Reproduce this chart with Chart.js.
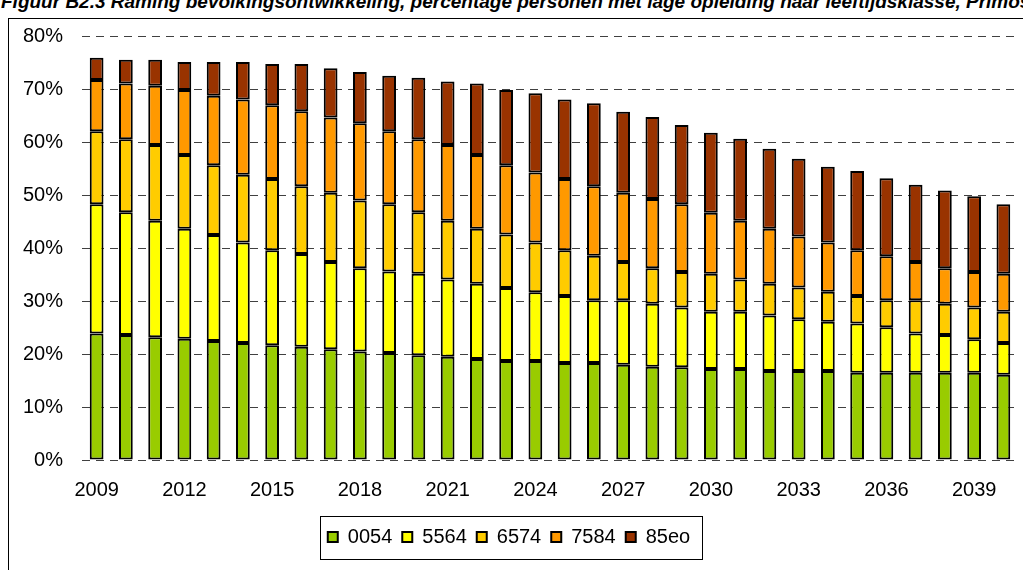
<!DOCTYPE html>
<html>
<head>
<meta charset="utf-8">
<script src="https://cdn.jsdelivr.net/npm/chart.js@4.4.1/dist/chart.umd.min.js"></script>
<style>
  html, body { margin: 0; padding: 0; background: #fff; }
  body { width: 1023px; height: 570px; position: relative; overflow: hidden; }
  #title { position: absolute; left: 1px; top: -8px; white-space: nowrap;
           font: italic bold 19px "Liberation Sans", Arial, sans-serif; line-height: 19px; color: #000; }
  #frame { position: absolute; left: 8px; top: 18px; width: 1200px; height: 800px;
           border-left: 1px solid #000; border-top: 1px solid #000; }
  #wrap { position: absolute; left: 0; top: 0; width: 1023px; height: 570px; }
</style>
</head>
<body>
<div id="title">Figuur B2.3 Raming bevolkingsontwikkeling, percentage personen met lage opleiding naar leeftijdsklasse, Primos</div>
<div id="frame"></div>
<div id="wrap"><canvas id="chart"></canvas></div>
<script>
// years on the x axis
const years = ['2009','2010','2011','2012','2013','2014','2015','2016','2017','2018',
               '2019','2020','2021','2022','2023','2024','2025','2026','2027','2028',
               '2029','2030','2031','2032','2033','2034','2035','2036','2037','2038',
               '2039','2040'];

// share (%) per age class, stacked
const s0054 = [23.9, 23.6, 23.2, 22.9, 22.5, 22.1, 21.7, 21.4, 20.9, 20.5,
               20.2, 19.8, 19.5, 19.1, 18.7, 18.7, 18.3, 18.3, 18.0, 17.6,
               17.5, 17.2, 17.2, 16.8, 16.8, 16.8, 16.5, 16.5, 16.5, 16.5,
               16.5, 16.1];
const s5564 = [24.4, 23.2, 22.0, 20.8, 20.0, 19.0, 17.9, 17.5, 16.5, 15.7,
               15.4, 15.4, 14.6, 14.2, 13.8, 13.0, 12.7, 11.9, 12.2, 11.9,
               11.3, 10.8, 10.8, 10.5, 9.8, 9.3, 9.3, 8.6, 7.4, 7.1,
               6.3, 6.0];
const s6574 = [13.8, 13.8, 14.3, 13.9, 13.2, 12.8, 13.5, 12.8, 13.1, 12.8,
               12.7, 11.6, 11.1, 10.4, 10.1, 9.4, 8.6, 8.4, 7.2, 6.7,
               6.7, 7.2, 6.1, 6.0, 6.0, 5.7, 5.2, 5.1, 6.3, 5.9,
               6.0, 5.9];
const s7584 = [9.7, 10.5, 11.2, 12.3, 13.1, 14.2, 13.9, 14.2, 14.2, 14.6,
               13.8, 13.8, 14.3, 13.9, 13.1, 13.2, 13.5, 13.1, 13.1, 13.1,
               12.8, 11.5, 11.1, 10.4, 9.6, 9.3, 8.6, 8.3, 7.2, 6.7,
               6.7, 7.2];
const s85eo = [4.2, 4.5, 4.9, 5.3, 6.4, 7.1, 7.8, 8.9, 9.3, 9.7,
               10.5, 11.6, 12.0, 13.5, 14.2, 15.0, 15.0, 15.7, 15.3, 15.5,
               15.0, 15.1, 15.5, 15.1, 14.7, 14.3, 15.0, 14.7, 14.6, 14.7,
               14.3, 13.1];

const yTicks = [0, 10, 20, 30, 40, 50, 60, 70, 80];

const font = { family: '"Liberation Sans", Arial, sans-serif', size: 20 };

function series(label, data, color) {
  return {
    label: label,
    data: data,
    backgroundColor: color,
    borderColor: '#000',
    borderWidth: 2,
    borderSkipped: false,
    barPercentage: 0.47,
    categoryPercentage: 1.0
  };
}

// box around the legend row
const legendFrame = {
  id: 'legendFrame',
  afterDraw(chart) {
    const boxes = chart.legend.legendHitBoxes;
    if (!boxes || !boxes.length) return;
    const first = boxes[0], last = boxes[boxes.length - 1];
    const left = first.left - 8;
    const right = last.left + last.width + 12;
    const cy = first.top + first.height / 2;
    const ctx = chart.ctx;
    ctx.save();
    ctx.strokeStyle = '#000';
    ctx.lineWidth = 1;
    ctx.strokeRect(Math.round(left) + 0.5, Math.round(cy - 21.5) + 0.5,
                   Math.round(right - left), 43);
    ctx.restore();
  }
};

Chart.defaults.font.family = font.family;
Chart.defaults.color = '#000';

new Chart(document.getElementById('chart'), {
  type: 'bar',
  data: {
    labels: years,
    datasets: [
      series('0054', s0054, '#99CC00'),
      series('5564', s5564, '#FFFF00'),
      series('6574', s6574, '#FFCC00'),
      series('7584', s7584, '#FF9900'),
      series('85eo', s85eo, '#993300')
    ]
  },
  options: {
    responsive: true,
    maintainAspectRatio: false,
    animation: false,
    layout: { padding: { left: 0, right: 5, top: 36.5, bottom: 13 } },
    scales: {
      x: {
        stacked: true,
        grid: { display: false },
        border: { display: false },
        ticks: {
          font: font, color: '#000', autoSkip: false, maxRotation: 0, padding: 10,
          callback: function(v, i) { return i % 3 === 0 ? years[i] : ''; }
        },
        afterFit(scale) { scale.height = 57; }
      },
      y: {
        stacked: true,
        min: 0, max: 80,
        afterBuildTicks(scale) { scale.ticks = yTicks.map(v => ({ value: v })); },
        grid: { color: '#404040', lineWidth: 1, drawTicks: false },
        border: { display: false, dash: [8, 6] },
        ticks: {
          font: font, color: '#000', padding: 19,
          callback: v => v + '%'
        },
        afterFit(scale) { scale.width = 82; }
      }
    },
    plugins: {
      legend: {
        position: 'bottom',
        labels: { font: font, color: '#000', boxWidth: 10, boxHeight: 10, padding: 10 }
      },
      tooltip: { enabled: false },
      title: { display: false }
    }
  },
  plugins: [legendFrame]
});
</script>
</body>
</html>
